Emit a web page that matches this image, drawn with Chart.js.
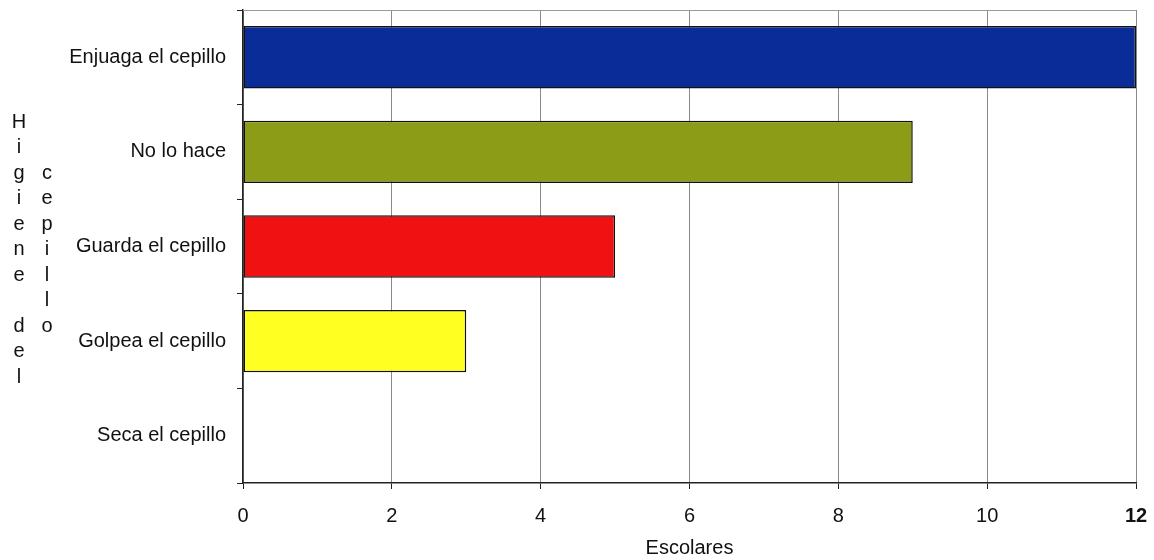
<!DOCTYPE html>
<html>
<head>
<meta charset="utf-8">
<script src="https://cdn.jsdelivr.net/npm/chart.js@4.4.1/dist/chart.umd.min.js"></script>
<style>
  html, body { margin: 0; padding: 0; background: #fff; }
  #wrap { width: 1154px; height: 560px; position: relative; }
</style>
</head>
<body>
<div id="wrap"><canvas id="grafico"></canvas></div>
<script>
// Datos del gráfico
const categorias = ['Enjuaga el cepillo', 'No lo hace', 'Guarda el cepillo', 'Golpea el cepillo', 'Seca el cepillo'];
const escolares = [12, 9, 5, 3, 0];
const coloresBarras = ['#0a2c98', '#8c9c16', '#f01212', '#ffff22', '#cccccc'];
const ejeX = { min: 0, max: 12, paso: 2 };
const tituloX = 'Escolares';
// Título vertical en dos columnas, letra por letra
const tituloY1 = ['H', 'i', 'g', 'i', 'e', 'n', 'e', '', 'd', 'e', 'l'];
const tituloY2 = ['', '', 'c', 'e', 'p', 'i', 'l', 'l', 'o', '', ''];

const fuente = '"Liberation Sans", Arial, sans-serif';

// Quita el margen automático que añaden las etiquetas en los extremos
function sinMargen(scale) {
    scale.paddingTop = 0;
    scale.paddingBottom = 0;
    scale.paddingLeft = 0;
    scale.paddingRight = 0;
}

// Dibuja el título del eje Y y la línea superior del área
const extras = {
    id: 'extras',
    afterDraw(chart) {
        const ctx = chart.ctx;
        const area = chart.chartArea;
        ctx.save();
        ctx.strokeStyle = '#9a9a9a';
        ctx.lineWidth = 1;
        ctx.beginPath();
        ctx.moveTo(area.left, area.top + 0.5);
        ctx.lineTo(area.right, area.top + 0.5);
        ctx.stroke();

        ctx.fillStyle = '#111';
        ctx.font = '20px ' + fuente;
        ctx.textAlign = 'center';
        ctx.textBaseline = 'middle';
        const paso = 25.5;
        const centro = 249.5;
        const inicio = centro - paso * (tituloY1.length - 1) / 2;
        tituloY1.forEach((c, i) => ctx.fillText(c, 19, inicio + i * paso));
        tituloY2.forEach((c, i) => ctx.fillText(c, 47, inicio + i * paso));
        ctx.restore();
    }
};

new Chart(document.getElementById('grafico'), {
    type: 'bar',
    data: {
        labels: categorias,
        datasets: [{
            data: escolares,
            backgroundColor: coloresBarras,
            borderColor: '#111',
            borderWidth: 1.5,
            borderSkipped: false,
            barPercentage: 0.66,
            categoryPercentage: 1
        }]
    },
    options: {
        indexAxis: 'y',
        responsive: true,
        maintainAspectRatio: false,
        animation: false,
        layout: { padding: { top: 10, right: 18, left: 0, bottom: 0 } },
        plugins: {
            legend: { display: false },
            tooltip: { enabled: false }
        },
        scales: {
            x: {
                min: ejeX.min,
                max: ejeX.max,
                afterFit(scale) { scale.height = 77; sinMargen(scale); },
                ticks: {
                    stepSize: ejeX.paso,
                    color: '#111',
                    padding: 15,
                    font: (c) => ({
                        family: fuente,
                        size: 20,
                        weight: c.tick && c.tick.value === ejeX.max ? 'bold' : 'normal'
                    })
                },
                grid: {
                    color: '#8a8a8a',
                    lineWidth: 1,
                    tickColor: '#222',
                    tickLength: 6
                },
                border: { color: '#222', width: 1.5 },
                title: {
                    display: true,
                    text: tituloX,
                    color: '#111',
                    font: { family: fuente, size: 20 },
                    padding: { top: 0, bottom: 0 }
                }
            },
            y: {
                afterFit(scale) { scale.width = 243; sinMargen(scale); },
                ticks: {
                    color: '#111',
                    padding: 11,
                    font: { family: fuente, size: 20 }
                },
                grid: {
                    drawOnChartArea: false,
                    tickColor: '#222',
                    tickLength: 6
                },
                border: { color: '#222', width: 1.5 }
            }
        }
    },
    plugins: [extras]
});
</script>
</body>
</html>
